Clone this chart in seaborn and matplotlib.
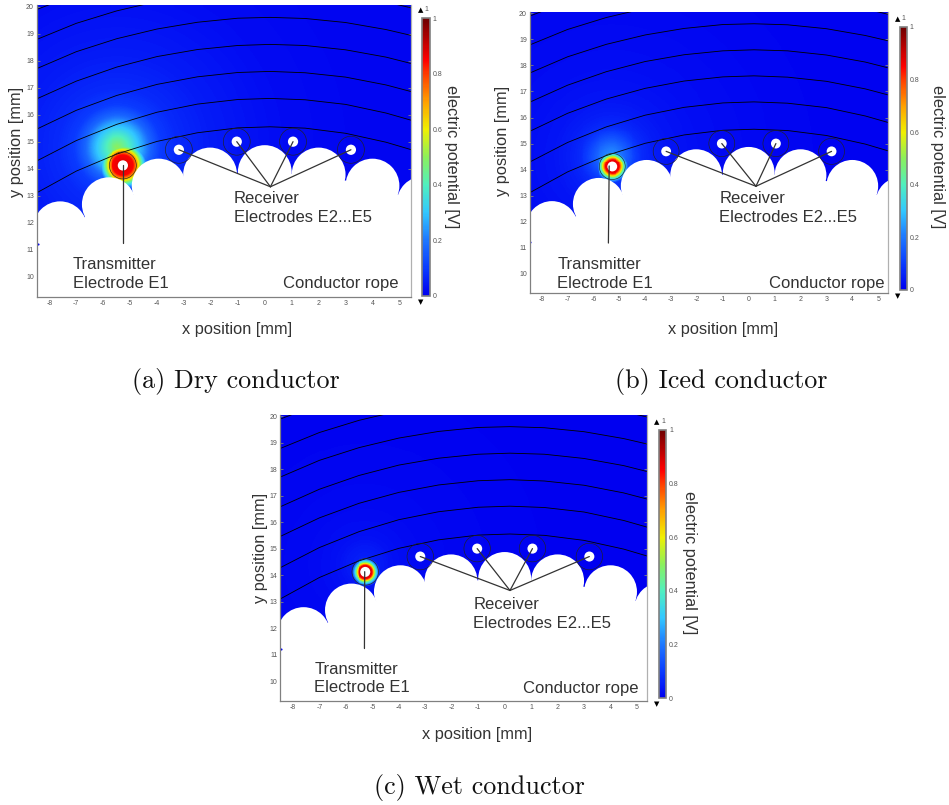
#!/usr/bin/env python3

from matplotlib import pyplot as plt
from matplotlib.colors import LinearSegmentedColormap
from matplotlib.patches import Circle
import numpy as np
import seaborn as sns

W, H = 949, 805

# rope strands (mm)
strand_x = [-7.6, -5.79, -3.94, -2.03, 0.0, 2.0, 4.0, 5.9]
strand_y = [11.79, 12.68, 13.37, 13.78, 13.87, 13.78, 13.37, 12.72]
strand_r = 1.0

# equipotential lines
line_x = [-8.5, -7, -5.5, -4, -2.5, -1, 0.2, 1.5, 3, 4.5, 5.45]
line_1 = [13.09, 13.91, 14.54, 15.01, 15.33, 15.51, 15.55, 15.50, 15.31, 14.98, 14.70]
line_2 = [14.27, 15.04, 15.64, 16.09, 16.39, 16.56, 16.60, 16.55, 16.38, 16.06, 15.79]
line_3 = [15.45, 16.16, 16.71, 17.12, 17.40, 17.56, 17.60, 17.55, 17.39, 17.10, 16.85]
line_4 = [16.57, 17.24, 17.76, 18.15, 18.41, 18.56, 18.60, 18.56, 18.40, 18.13, 17.89]
line_5 = [17.69, 18.33, 18.81, 19.17, 19.42, 19.57, 19.60, 19.56, 19.41, 19.15, 18.93]
line_6 = [18.77, 19.38, 19.84, 20.19, 20.43, 20.57, 20.60, 20.56, 20.42, 20.17, 19.95]
line_7 = [19.88, 20.45, 20.88, 21.21, 21.44, 21.57, 21.60, 21.56, 21.43, 21.18, 20.97]
lines = [line_1, line_2, line_3, line_4, line_5, line_6, line_7]

# electrodes: E1 then E2...E5
elec_x = [-5.27, -3.19, -1.04, 1.05, 3.2]
elec_y = [14.12, 14.70, 15.0, 15.0, 14.70]

x_ticks = list(range(-8, 6))
y_ticks = list(range(10, 21))
cbar_ticks = [0, 0.2, 0.4, 0.6, 0.8, 1]

# potential around E1 (distance in mm, potential in V)
core_r = {
    "a": [0.15, 0.38, 0.46, 0.54, 0.64, 0.76, 0.92],
    "b": [0.15, 0.27, 0.32, 0.38, 0.44, 0.52, 0.65],
    "c": [0.15, 0.25, 0.29, 0.33, 0.38, 0.44, 0.55],
}
core_v = {
    "a": [0.88, 0.85, 0.76, 0.66, 0.50, 0.32, 0.12],
    "b": [0.88, 0.86, 0.74, 0.58, 0.42, 0.26, 0.04],
    "c": [0.90, 0.86, 0.74, 0.58, 0.42, 0.26, 0.02],
}
glow_xy = {"a": (-5.48, 14.78), "b": (-5.32, 14.50), "c": (-5.3, 14.4)}
glow_r = [0.0, 0.35, 0.7, 0.95, 1.2, 1.6, 2.2, 3.5, 6.0, 9.0]
glow_v = {
    "a": [0.50, 0.42, 0.32, 0.25, 0.17, 0.10, 0.07, 0.045, 0.02, 0.01],
    "b": [0.24, 0.20, 0.14, 0.10, 0.07, 0.05, 0.035, 0.022, 0.012, 0.005],
    "c": [0.06, 0.05, 0.04, 0.03, 0.025, 0.02, 0.015, 0.01, 0.005, 0.0],
}

# pixel boxes: axes (left, top, right, bottom), colorbar likewise
ax_box = {"a": (36.7, 5.5, 410.7, 297), "b": (529.7, 12.3, 888, 293.3), "c": (280.3, 415, 647.3, 701)}
cb_box = {"a": (422.3, 18.3, 430, 295.7), "b": (899.7, 26.7, 906.7, 290), "c": (659, 429.7, 666.3, 698.3)}
xlims = {"a": (-8.47, 5.42), "b": (-8.46, 5.38), "c": (-8.48, 5.39)}
ylims = (9.25, 20.04)
apex = {"a": (0.21, 13.33), "b": (0.28, 13.36), "c": (0.2, 13.42)}
tx_bottom = {"a": (-5.26, 11.26), "b": (-5.42, 11.18), "c": (-5.3, 11.23)}
tx_top = {"a": (-5.26, 14.12), "b": (-5.39, 14.14), "c": (-5.29, 14.13)}
tx_text = {"a": (-7.13, 10.46, 9.75), "b": (-7.39, 10.35, 9.64), "c": (-7.2, 10.44, 9.75)}
rx_text = {"a": (-1.16, 12.90, 12.20), "b": (-1.13, 12.88, 12.15), "c": (-1.18, 12.89, 12.18)}
rope_text = {"a": (0.69, 9.75), "b": (0.79, 9.62), "c": (0.68, 9.71)}
x_label_xy = {"a": (237, 329), "b": (723, 329), "c": (477, 734)}
y_label_xy = {"a": (17, 142), "b": (502, 141), "c": (260, 548)}
v_label_xy = {"a": (452, 157), "b": (938, 157), "c": (690, 563)}
caption = {"a": "(a) Dry conductor", "b": "(b) Iced conductor", "c": "(c) Wet conductor"}
caption_xy = {"a": (236, 381), "b": (721, 381), "c": (479, 787)}
speck = (-8.44, 11.22)

cmap = LinearSegmentedColormap.from_list("comsol", [
    (0.0, "#0000f0"), (0.1, "#0a3cff"), (0.2, "#1e78ff"), (0.3, "#32c8ff"),
    (0.4, "#50f0be"), (0.5, "#8cf05a"), (0.6, "#f0f000"), (0.7, "#ffa000"),
    (0.8, "#ff3c00"), (0.85, "#ff0000"), (1.0, "#6e0000"),
])

plt.rcParams["font.family"] = ["Liberation Sans", "DejaVu Sans"]
plt.rcParams["axes.unicode_minus"] = False
sns.set_style("white", {"font.family": ["Liberation Sans", "DejaVu Sans"]})

fig = plt.figure(figsize=(W / 100, H / 100), dpi=100)
TEXT = "#333333"
AXC = "#808080"


def box(b):
    return [b[0] / W, 1 - b[3] / H, (b[2] - b[0]) / W, (b[3] - b[1]) / H]


for p in ["a", "b", "c"]:
    xl = xlims[p]
    gx, gy = np.meshgrid(np.linspace(xl[0], xl[1], 380), np.linspace(ylims[1], ylims[0], 290))
    d_core = np.hypot(gx - elec_x[0], gy - elec_y[0])
    d_glow = np.hypot(gx - glow_xy[p][0], gy - glow_xy[p][1])
    field = np.maximum(np.interp(d_core, core_r[p], core_v[p], right=0),
                       np.interp(d_glow, glow_r, glow_v[p]))

    hax = fig.add_axes(box(ax_box[p]))
    cax = fig.add_axes(box(cb_box[p]))
    sns.heatmap(field, ax=hax, cbar_ax=cax, cmap=cmap, vmin=0, vmax=1,
                xticklabels=False, yticklabels=False,
                cbar_kws={"ticks": cbar_ticks})
    hax.set_axis_off()

    cbar = hax.collections[0].colorbar
    cbar.set_ticklabels(["0", "0.2", "0.4", "0.6", "0.8", "1"])
    cax.tick_params(labelsize=5, length=0, pad=2, labelcolor="#555555")
    cbar.outline.set_visible(True)
    cbar.outline.set_edgecolor("#808080")
    cbar.outline.set_linewidth(1.2)
    cax.text(0.1, 1.03, "\u25b2", transform=cax.transAxes, fontsize=5, ha="right", va="center",
             color="black", family="DejaVu Sans")
    cax.text(0.55, 1.03, "1", transform=cax.transAxes, fontsize=5, ha="center", va="center", color="#555555")
    cax.text(0.1, -0.022, "\u25bc", transform=cax.transAxes, fontsize=5, ha="right", va="center",
             color="black", family="DejaVu Sans")

    ax = fig.add_axes(box(ax_box[p]), facecolor="none")
    ax.set_xlim(xl)
    ax.set_ylim(ylims)
    ax.set_aspect("auto")

    for y in lines:
        ax.plot(line_x, y, color="black", lw=0.6, zorder=2)

    # conductor body in white on top of the field
    ax.fill_between(line_x + [5.9], ylims[0] - 1,
                    np.interp(line_x + [5.9], strand_x, strand_y),
                    color="white", lw=0, zorder=3)
    for sx, sy in zip(strand_x, strand_y):
        ax.add_patch(Circle((sx, sy), strand_r, fc="white", ec="none", zorder=3))
    ax.plot([speck[0]], [speck[1]], "o", ms=1.5, color="#0000f0", mew=0, zorder=4)

    for ex, ey in zip(elec_x, elec_y):
        ax.add_patch(Circle((ex, ey), 0.5, fc="none", ec="#222222", lw=0.45, zorder=4))
        ax.add_patch(Circle((ex, ey), 0.19, fc="white", ec="none", zorder=4))

    for ex, ey in zip(elec_x[1:], elec_y[1:]):
        ax.plot([apex[p][0], ex], [apex[p][1], ey], color="#333333", lw=0.9, zorder=5)
    ax.plot([tx_bottom[p][0], tx_top[p][0]], [tx_bottom[p][1], tx_top[p][1]], color="#333333", lw=0.9, zorder=5)

    ax.set_xticks(x_ticks)
    ax.set_yticks(y_ticks)
    ax.tick_params(direction="in", length=2.5, width=0.6, color=AXC, labelsize=5,
                   labelcolor="#555555", top=False, right=True, bottom=True, left=True, pad=2)
    ax.spines["top"].set_visible(False)
    for s in ["left", "bottom", "right"]:
        ax.spines[s].set_visible(True)
        ax.spines[s].set_color(AXC)
        ax.spines[s].set_linewidth(0.9)
        ax.spines[s].set_zorder(6)
    ax.spines["right"].set_color("#b0b0b0")

    fs = 12
    tx, ty1, ty2 = tx_text[p]
    ax.text(tx, ty1, "Transmitter", fontsize=fs, color=TEXT, va="center", zorder=7)
    ax.text(tx, ty2, "Electrode E1", fontsize=fs, color=TEXT, va="center", zorder=7)
    rx, ry1, ry2 = rx_text[p]
    ax.text(rx, ry1, "Receiver", fontsize=fs, color=TEXT, va="center", zorder=7)
    ax.text(rx, ry2, "Electrodes E2...E5", fontsize=fs, color=TEXT, va="center", zorder=7)
    ax.text(rope_text[p][0], rope_text[p][1], "Conductor rope", fontsize=fs, color=TEXT, va="center", zorder=7)

    fig.text(x_label_xy[p][0] / W, 1 - x_label_xy[p][1] / H, "x position [mm]", fontsize=11.8,
             color=TEXT, ha="center", va="center")
    fig.text(y_label_xy[p][0] / W, 1 - y_label_xy[p][1] / H, "y position [mm]", fontsize=11.8,
             color=TEXT, ha="center", va="center", rotation=90)
    fig.text(v_label_xy[p][0] / W, 1 - v_label_xy[p][1] / H, "electric potential [V]", fontsize=11.8,
             color=TEXT, ha="center", va="center", rotation=270)
    fig.text(caption_xy[p][0] / W, 1 - caption_xy[p][1] / H, caption[p], fontsize=18.8,
             family="cmr10", color="#111111", ha="center", va="center")

fig.savefig("out.png", dpi=100)
